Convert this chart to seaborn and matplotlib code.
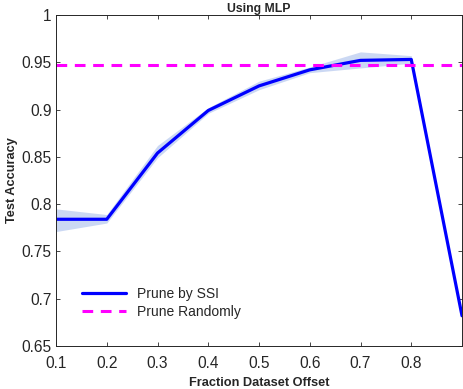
import numpy as np
import pandas as pd
import matplotlib
matplotlib.use("Agg")
import matplotlib.pyplot as plt
import seaborn as sns

offsets = [0.1, 0.2, 0.3, 0.4, 0.5, 0.6, 0.7, 0.8, 0.9]
ssi_mean = [0.784, 0.784, 0.854, 0.899, 0.925, 0.942, 0.952, 0.953, 0.682]
ssi_lower = [0.771, 0.780, 0.849, 0.896, 0.921, 0.939, 0.944, 0.949, 0.680]
ssi_upper = [0.795, 0.789, 0.862, 0.902, 0.930, 0.945, 0.961, 0.957, 0.684]
random_acc = 0.947
xticks = [0.1, 0.2, 0.3, 0.4, 0.5, 0.6, 0.7, 0.8]
yticks = [0.65, 0.7, 0.75, 0.8, 0.85, 0.9, 0.95, 1.0]
ytick_labels = ["0.65", "0.7", "0.75", "0.8", "0.85", "0.9", "0.95", "1"]

sns.set_theme(style="white")
plt.rcParams["font.family"] = ["Liberation Sans", "DejaVu Sans"]

df = pd.DataFrame({"offset": offsets, "acc": ssi_mean})

fig = plt.figure(figsize=(4.64, 3.89), dpi=100)
ax = fig.add_axes([0.1207, 0.1105, 0.875, 0.851])

ax.fill_between(offsets, ssi_lower, ssi_upper, color="#c6d4f2", alpha=0.9, linewidth=0)
sns.lineplot(data=df, x="offset", y="acc", ax=ax, color="#0000ff", linewidth=2.3,
             label="Prune by SSI")
ax.axhline(random_acc, color="#ff00ff", linewidth=2.2, linestyle=(0, (3.5, 2.5)),
           label="Prune Randomly")

ax.set_xlim(0.1, 0.9)
ax.set_ylim(0.65, 1.0)
ax.set_xticks(xticks)
ax.set_xticklabels([f"{t:.1f}" for t in xticks])
ax.set_yticks(yticks)
ax.set_yticklabels(ytick_labels)
ax.tick_params(axis="both", direction="in", length=3, width=0.6, labelsize=11.2,
               top=True, right=True, bottom=True, left=True, colors="#262626",
               labelcolor="#262626")
ax.tick_params(axis="x", pad=7.5)
ax.tick_params(axis="y", pad=3)
for s in ax.spines.values():
    s.set_color("#262626")
    s.set_linewidth(0.7)

ax.set_xlabel("Fraction Dataset Offset", fontsize=9.2, fontweight="bold", labelpad=4)
ax.set_ylabel("Test Accuracy", fontsize=9.2, fontweight="bold", labelpad=3)
ax.set_title("Using MLP", fontsize=8.8, fontweight="bold", pad=2)

leg = ax.legend(loc="lower left", frameon=False, fontsize=10, handlelength=3.2,
                bbox_to_anchor=(0.05, 0.065), borderaxespad=0, labelspacing=0.3)

fig.savefig("out.png", dpi=100)
